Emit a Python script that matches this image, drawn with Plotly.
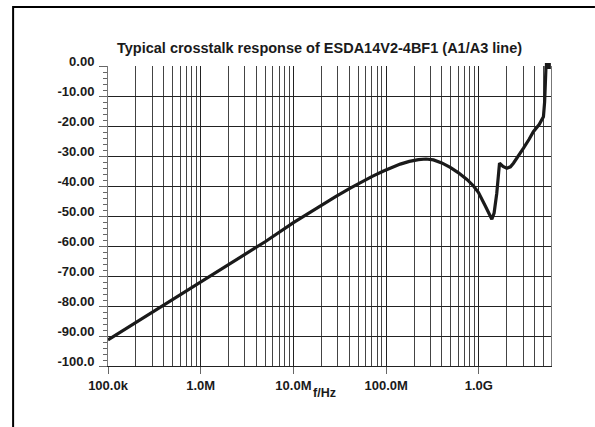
import plotly.graph_objects as go

# Data
freq_hz = [1e5, 2e5, 5e5, 1e6, 2e6, 5e6, 1e7, 1.78e7, 2.82e7, 4.1e7, 5.62e7, 7.08e7,
           9.38e7, 1.12e8, 1.42e8, 1.78e8, 2.23e8, 2.69e8, 3.24e8, 3.98e8, 4.91e8,
           6.03e8, 7.43e8, 8.71e8, 9.91e8, 1.17e9, 1.29e9, 1.38e9, 1.46e9, 1.56e9,
           1.67e9, 1.82e9, 2.0e9, 2.19e9, 2.36e9, 2.69e9, 3.03e9, 3.47e9, 3.87e9,
           4.47e9, 4.97e9, 5.12e9, 5.2e9, 5.3e9, 5.55e9]
crosstalk_db = [-91.3, -85.5, -77.8, -72.0, -66.2, -58.5, -52.2, -47.3, -43.6, -40.7,
                -38.4, -36.8, -35.0, -33.9, -32.7, -31.8, -31.2, -31.0, -31.3, -32.3,
                -33.8, -35.6, -37.8, -39.9, -42.2, -46.6, -49.5, -51.1, -49.0, -42.4,
                -32.4, -33.5, -34.1, -33.6, -32.4, -30.0, -27.4, -24.5, -21.9,
                -19.5, -16.9, -12.0, -5.0, 0.0, 0.0]

x_tickvals = [1e5, 1e6, 1e7, 1e8, 1e9]
x_ticktext = ["100.0k", "1.0M", "10.0M", "100.0M", "1.0G"]
y_tickvals = [0, -10, -20, -30, -40, -50, -60, -70, -80, -90, -100]
y_ticktext = ["0.00", "-10.00", "-20.00", "-30.00", "-40.00", "-50.00", "-60.00",
              "-70.00", "-80.00", "-90.00", "-100.0"]

title_text = "Typical crosstalk response of ESDA14V2-4BF1 (A1/A3 line)"
x_title = "f/Hz"

FONT = "Liberation Sans, Arial, Helvetica, sans-serif"
TXT = "#1a1a1a"

W, H = 595, 427
ML, MR, MT, MB = 107.5, 44, 66, 61
PW = W - ML - MR
PH = H - MT - MB

def px_x(p):
    return (p - ML) / PW

def px_y(p):
    return (H - MB - p) / PH

fig = go.Figure()
fig.add_trace(go.Scatter(
    x=freq_hz, y=crosstalk_db, mode="lines",
    line=dict(color="#1a1a1a", width=3.2),
    showlegend=False, hoverinfo="skip", cliponaxis=True,
))
fig.add_trace(go.Scatter(
    x=[freq_hz[-1]], y=[crosstalk_db[-1]], mode="markers",
    marker=dict(symbol="square", size=6, color="#1a1a1a"),
    showlegend=False, hoverinfo="skip", cliponaxis=False,
))

fig.update_layout(
    width=W, height=H,
    margin=dict(l=ML, r=MR, t=MT, b=MB, pad=0),
    paper_bgcolor="white", plot_bgcolor="white",
    font=dict(family=FONT, size=12, color=TXT),
    showlegend=False,
)

fig.update_xaxes(
    type="log", range=[5, 9.778],
    tickvals=x_tickvals, ticktext=x_ticktext,
    tickfont=dict(family=FONT, size=13, color=TXT, weight="bold"),
    ticks="outside", ticklen=7, tickcolor="#666", tickwidth=1,
    showgrid=True, gridcolor="#222", gridwidth=1,
    minor=dict(dtick="D1", showgrid=True, gridcolor="#444", gridwidth=1, ticks=""),
    showline=True, linecolor="#222", linewidth=1, mirror=False,
    zeroline=False, fixedrange=True,
)
fig.update_yaxes(
    range=[-100, 0],
    tickvals=y_tickvals, ticktext=y_ticktext,
    tickfont=dict(family=FONT, size=13, color=TXT, weight="bold"),
    ticks="outside", ticklen=8, tickcolor="#666", tickwidth=1,
    ticklabelshift=-5, ticklabelstandoff=2,
    minor=dict(dtick=2, ticks="outside", ticklen=4, tickcolor="#666", showgrid=False),
    showgrid=True, gridcolor="#222", gridwidth=1,
    showline=True, linecolor="#777", linewidth=1, mirror=True,
    zeroline=False, fixedrange=True,
)

fig.add_annotation(
    text="<b>" + title_text + "</b>", xref="paper", yref="paper",
    x=px_x(319), y=px_y(48), xanchor="center", yanchor="middle",
    showarrow=False, font=dict(family=FONT, size=14.5, color=TXT),
)
fig.add_annotation(
    text="<b>" + x_title + "</b>", xref="paper", yref="paper",
    x=px_x(324), y=px_y(393), xanchor="center", yanchor="middle",
    showarrow=False, font=dict(family=FONT, size=12.5, color=TXT),
)

# outer figure frame (only top and left edges are visible)
fig.add_shape(
    type="line", xref="paper", yref="paper",
    x0=px_x(12.5), x1=px_x(595), y0=px_y(7), y1=px_y(7),
    line=dict(color="black", width=2), layer="above",
)
fig.add_shape(
    type="line", xref="paper", yref="paper",
    x0=px_x(12.5), x1=px_x(12.5), y0=px_y(6), y1=px_y(427),
    line=dict(color="black", width=2), layer="above",
)

fig.write_html(
    "out.html",
    config={"displayModeBar": False},
    post_script=(
        "document.documentElement.style.margin='0';"
        "document.documentElement.style.overflow='hidden';"
        "document.body.style.margin='0';"
        "document.body.style.overflow='hidden';"
    ),
)
